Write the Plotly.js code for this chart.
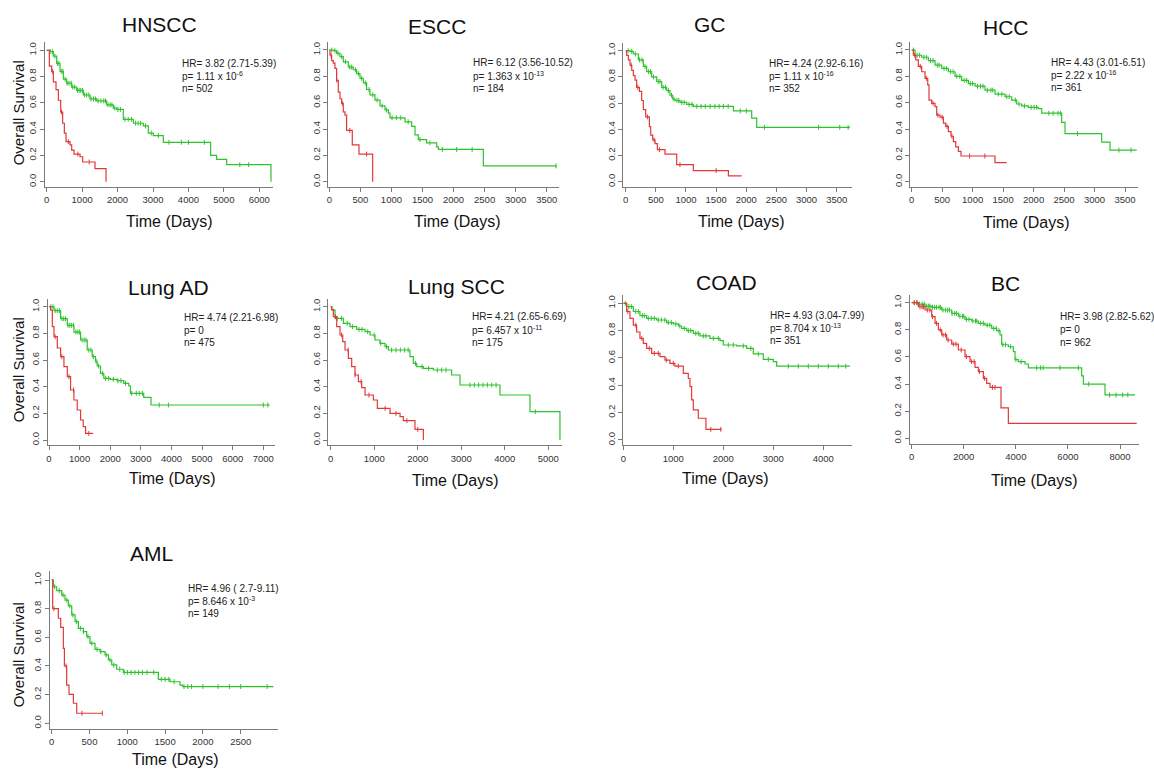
<!DOCTYPE html>
<html><head><meta charset="utf-8">
<script src="https://cdn.plot.ly/plotly-3.0.1.min.js"></script>
<style>html,body{margin:0;padding:0;background:#fff;}#chart{width:1154px;height:774px;}</style>
</head><body><div id="chart"></div>
<script>
// ---------------- DATA ----------------
const panelNames = ['HNSCC','ESCC','GC','HCC','Lung AD','Lung SCC','COAD','BC','AML'];
const xTickStep = [1000,500,500,500,1000,1000,1000,2000,500];
const xTickMax  = [6000,3500,3500,3500,7000,5000,4000,8000,2500];
const hrText = ['HR= 3.82 (2.71-5.39)','HR= 6.12 (3.56-10.52)','HR= 4.24 (2.92-6.16)','HR= 4.43 (3.01-6.51)',
  'HR= 4.74 (2.21-6.98)','HR= 4.21 (2.65-6.69)','HR= 4.93 (3.04-7.99)','HR= 3.98 (2.82-5.62)','HR= 4.96 ( 2.7-9.11)'];
const pText = ['p= 1.11 x 10<sup>-6</sup>','p= 1.363 x 10<sup>-13</sup>','p= 1.11 x 10<sup>-16</sup>','p= 2.22 x 10<sup>-16</sup>',
  'p= 0','p= 6.457 x 10<sup>-11</sup>','p= 8.704 x 10<sup>-13</sup>','p= 0','p= 8.646 x 10<sup>-3</sup>'];
const nText = ['n= 502','n= 184','n= 352','n= 361','n= 475','n= 175','n= 351','n= 962','n= 149'];

// HNSCC
const hnsccLowT = [0,94,188,282,376,470,564,705,846,1034,1222,1410,1692,1880,1975,2163,2445,2727,2868,3009,3291,4627,4796,5078,6329];
const hnsccLowS = [1,0.99,0.955,0.90,0.84,0.78,0.75,0.72,0.695,0.66,0.63,0.615,0.585,0.56,0.55,0.475,0.445,0.425,0.37,0.35,0.30,0.20,0.17,0.13,0];
const hnsccLowC = [95,160,230,300,345,410,455,520,575,630,690,735,790,870,915,960,1010,1070,1130,1190,1250,1320,1380,1450,1530,1610,1660,1730,1790,1840,1920,2010,2080,2210,2300,2390,2510,2580,2650,2790,2950,3150,3450,3800,4000,4450,5450,5700];
const hnsccHighT = [0,75,141,188,263,329,395,451,498,545,658,705,771,940,1015,1363,1674];
const hnsccHighS = [1,0.88,0.84,0.76,0.70,0.62,0.53,0.445,0.37,0.305,0.28,0.24,0.21,0.19,0.15,0.10,0];
const hnsccHighC = [160,420,610,880,1200];
// ESCC
const esccLowT = [0,64,118,172,225,306,387,440,494,548,601,655,735,816,896,950,977,1219,1326,1380,1433,1567,1728,1755,2480,3661];
const esccLowS = [1,0.995,0.975,0.95,0.91,0.87,0.85,0.82,0.785,0.75,0.70,0.66,0.62,0.575,0.545,0.52,0.485,0.455,0.42,0.355,0.32,0.295,0.265,0.245,0.12,0.12];
const esccLowC = [40,90,140,200,260,330,360,420,470,520,580,640,700,770,850,920,1010,1080,1150,1270,1460,1620,1820,2050,2300,3650];
const esccHighT = [0,11,38,64,91,118,145,172,199,225,252,279,370,478,698];
const esccHighS = [1,0.96,0.92,0.90,0.86,0.77,0.68,0.63,0.595,0.53,0.505,0.39,0.28,0.21,0];
const esccHighC = [30,120,210,330,600];
// GC
const gcLowT = [0,72,127,210,293,348,431,514,597,680,735,780,818,901,1012,1122,1786,2090,2173,3721];
const gcLowS = [1,0.995,0.975,0.93,0.88,0.84,0.80,0.765,0.72,0.695,0.66,0.63,0.62,0.605,0.59,0.575,0.54,0.485,0.415,0.415];
const gcLowC = [40,100,160,230,270,320,380,410,460,540,570,620,660,710,760,800,850,880,930,970,1050,1100,1180,1250,1320,1400,1480,1550,1620,1700,1900,2000,2300,3200,3550,3690];
const gcHighT = [0,17,44,72,100,127,155,182,227,265,293,332,393,415,448,487,525,652,846,1122,1703,1924];
const gcHighS = [1,0.965,0.93,0.89,0.85,0.81,0.775,0.72,0.69,0.62,0.55,0.495,0.42,0.355,0.32,0.29,0.245,0.21,0.13,0.085,0.045,0.045];
const gcHighC = [90,200,360,470,560,900,1500];
// HCC
const hccLowT = [0,55,164,273,383,492,602,711,820,930,1039,1203,1367,1531,1641,1723,1805,1914,2078,2133,2461,2516,3117,3254,3692];
const hccLowS = [1,0.96,0.945,0.92,0.885,0.86,0.835,0.80,0.77,0.745,0.725,0.695,0.665,0.645,0.62,0.59,0.575,0.565,0.555,0.52,0.45,0.365,0.30,0.24,0.24];
const hccLowC = [30,90,130,200,240,310,350,420,450,530,570,640,680,740,790,860,900,960,1000,1080,1130,1170,1240,1300,1330,1420,1480,1560,1600,1700,1760,1850,1960,2010,2050,2250,2320,2400,2440,2720,3400,3600];
const hccHighT = [0,27,66,109,164,219,263,284,328,383,410,465,520,558,602,645,684,722,766,809,1367,1559];
const hccHighS = [1,0.96,0.925,0.875,0.835,0.785,0.735,0.62,0.595,0.57,0.505,0.49,0.445,0.42,0.38,0.345,0.305,0.265,0.23,0.195,0.145,0.145];
const hccHighC = [50,140,240,350,430,500,580,660,950,1200];
// Lung AD
const luadLowT = [0,163,380,597,814,1031,1248,1411,1519,1574,1682,1791,2008,2225,2442,2605,2659,3093,3332,7217];
const luadLowS = [1,0.97,0.91,0.86,0.81,0.75,0.675,0.625,0.59,0.555,0.50,0.4625,0.455,0.445,0.425,0.405,0.35,0.32,0.2625,0.2625];
const luadLowC = [60,130,200,270,340,420,480,540,620,680,740,800,880,940,1000,1080,1150,1210,1300,1370,1450,1540,1620,1750,1850,1950,2100,2250,2350,2500,2700,2850,2950,3050,3600,3900,7000,7150];
const luadHighT = [0,54,109,163,271,380,488,597,705,814,922,1031,1118,1194,1443];
const luadHighS = [1,0.975,0.85,0.775,0.69,0.625,0.55,0.475,0.375,0.30,0.225,0.15,0.10,0.05,0.05];
const luadHighC = [200,420,650,800,1300];
// Lung SCC
const luscLowT = [0,23,100,291,444,597,789,904,1018,1133,1248,1325,1822,1899,1976,2129,2358,2779,2971,3890,4579,5268];
const luscLowS = [1,0.975,0.9125,0.875,0.85,0.83,0.8125,0.7875,0.75,0.725,0.70,0.675,0.625,0.575,0.55,0.5375,0.525,0.4875,0.4125,0.3375,0.2125,0];
const luscLowC = [150,250,380,500,650,720,850,1000,1150,1280,1400,1500,1600,1700,1780,1950,2100,2250,2450,2550,2650,3200,3300,3400,3500,3600,3700,3800,4700];
const luscHighT = [0,23,61,138,214,276,329,406,482,559,636,712,789,980,1072,1363,1593,1669,1937,2129];
const luscHighS = [1,0.98,0.925,0.85,0.7875,0.7375,0.675,0.6125,0.55,0.4875,0.4375,0.3925,0.3375,0.30,0.2375,0.20,0.175,0.145,0.08,0];
const luscHighC = [110,250,400,560,700,880,1250,1500,1750,2000];
// COAD
const coadLowT = [0,67,200,333,467,667,867,1000,1100,1167,1267,1400,1533,1733,1933,2000,2267,2467,2600,2800,3000,3067,4533];
const coadLowS = [1,0.976,0.94,0.91,0.89,0.878,0.859,0.849,0.834,0.817,0.80,0.78,0.761,0.744,0.727,0.695,0.688,0.67,0.63,0.59,0.573,0.54,0.54];
const coadLowC = [40,110,160,250,300,380,420,500,560,620,700,760,830,900,960,1050,1130,1220,1300,1350,1450,1500,1600,1650,1800,1900,2100,2200,2400,2550,2700,2900,3300,3500,3700,3900,4100,4300,4450];
const coadHighT = [0,67,133,200,267,333,400,467,567,733,833,933,1033,1200,1300,1333,1367,1400,1500,1653,1967];
const coadHighS = [1,0.94,0.89,0.84,0.79,0.744,0.707,0.67,0.634,0.61,0.585,0.561,0.541,0.488,0.45,0.39,0.293,0.22,0.159,0.078,0.078];
const coadHighC = [90,250,370,520,620,700,860,1000,1100,1750,1950];
// BC
const bcLowT = [0,256,512,768,1152,1536,1792,2048,2304,2560,2816,3072,3264,3392,3456,3712,3904,3968,4096,4352,4480,6528,6592,7424,8576];
const bcLowS = [1,0.99,0.975,0.966,0.946,0.921,0.90,0.877,0.865,0.848,0.835,0.81,0.794,0.762,0.69,0.675,0.639,0.58,0.565,0.548,0.52,0.46,0.40,0.32,0.32];
const bcLowC = [100,200,300,400,480,560,640,700,800,880,950,1050,1100,1200,1300,1380,1450,1550,1650,1720,1850,1950,2000,2100,2200,2350,2450,2500,2650,2750,2900,3000,3150,3250,3350,3500,3600,3800,4000,4200,4800,4950,5050,5700,6400,6800,7600,7850,8100,8300];
const bcHighT = [0,256,512,768,896,1024,1152,1344,1536,1792,2048,2240,2432,2560,2752,2880,3008,3430,3712,8640];
const bcHighS = [1,0.97,0.946,0.897,0.848,0.80,0.762,0.725,0.695,0.651,0.602,0.565,0.523,0.491,0.442,0.405,0.375,0.225,0.11,0.11];
const bcHighC = [100,200,320,400,450,600,700,800,950,1100,1200,1300,1400,1600,1700,1900,2100,2300,2400,2600,2800,3100,3200];
// AML
const amlLowT = [0,22,66,132,176,220,265,309,353,419,463,507,573,639,705,750,794,860,948,1411,1565,1697,1733,2932];
const amlLowS = [1,0.953,0.926,0.895,0.86,0.819,0.756,0.709,0.663,0.64,0.605,0.558,0.516,0.50,0.477,0.442,0.407,0.377,0.355,0.307,0.29,0.267,0.256,0.256];
const amlLowC = [40,100,150,200,240,280,330,380,420,480,530,600,650,720,770,820,900,960,1000,1050,1100,1150,1200,1260,1350,1450,1500,1550,1620,1750,1800,1850,2000,2200,2350,2500,2850];
const amlHighT = [0,13,88,119,154,168,198,229,287,331,675];
const amlHighS = [1,0.80,0.733,0.67,0.523,0.40,0.267,0.202,0.14,0.07,0.07];
const amlHighC = [30,190,400,670];

const lowT = [hnsccLowT,esccLowT,gcLowT,hccLowT,luadLowT,luscLowT,coadLowT,bcLowT,amlLowT];
const lowS = [hnsccLowS,esccLowS,gcLowS,hccLowS,luadLowS,luscLowS,coadLowS,bcLowS,amlLowS];
const lowC = [hnsccLowC,esccLowC,gcLowC,hccLowC,luadLowC,luscLowC,coadLowC,bcLowC,amlLowC];
const highT = [hnsccHighT,esccHighT,gcHighT,hccHighT,luadHighT,luscHighT,coadHighT,bcHighT,amlHighT];
const highS = [hnsccHighS,esccHighS,gcHighS,hccHighS,luadHighS,luscHighS,coadHighS,bcHighS,amlHighS];
const highC = [hnsccHighC,esccHighC,gcHighC,hccHighC,luadHighC,luscHighC,coadHighC,bcHighC,amlHighC];

// ---------------- LAYOUT GEOMETRY (pixels) ----------------
const W = 1154, H = 774;
const geom = [
 {pL:45,   p0:46.7,  pT:259.3, pR:273,  py1:50.3,  py0:181.7, tx:159,   ty:24,    ax:169,   ay:221,   hx:180,   hy:63.3},
 {pL:328.3,p0:329.3, pT:546.7, pR:559,  py1:50,    py0:181.7, tx:436.7, ty:26,    ax:457.5, ay:221.7, hx:471,   hy:62.7},
 {pL:623.3,p0:625.7, pT:836.7, pR:852,  py1:50.7,  py0:181.7, tx:710,   ty:24,    ax:741.7, ay:221.7, hx:766.7, hy:63.3},
 {pL:910.3,p0:911.7, pT:1125,  pR:1138, py1:50,    py0:181.7, tx:1005.7,ty:28,    ax:1026.7,ay:222,   hx:1049.3,hy:62.3},
 {pL:48,   p0:49,    pT:263.3, pR:275,  py1:306.7, py0:440,   tx:168.3, ty:287.3, ax:172.5, ay:478.3, hx:181.7, hy:317.3},
 {pL:328.3,p0:330.7, pT:548.3, pR:562,  py1:306.7, py0:440,   tx:456.7, ty:286.7, ax:455,   ay:480,   hx:470,   hy:316.7},
 {pL:623.3,p0:623.3, pT:823.3, pR:852,  py1:303.3, py0:440,   tx:726.7, ty:282.7, ax:725,   ay:478.3, hx:768.3, hy:315},
 {pL:910,  p0:911.7, pT:1120,  pR:1139, py1:302.7, py0:438.3, tx:1005,  ty:283.3, ax:1034,  ay:480,   hx:1057.7,hy:316.7},
 {pL:50,   p0:51.7,  pT:240.7, pR:278,  py1:580,   py0:723.3, tx:151.7, ty:553.3, ax:175.8, ay:759.3, hx:186,   hy:588.3}
];
const yTitlePos = [{i:0,x:18,y:113.3},{i:4,x:18.3,y:370},{i:8,x:18.3,y:655}];
const FONT = 'Liberation Sans, Arial, Helvetica, sans-serif';
const GREEN = '#2fc22f', RED = '#e23838', AXC = '#7a7a7a';
const Y0 = -0.04, Y1 = 1.06;

function stepAt(T, S, t){ let v = S[0]; for (let k=0;k<T.length;k++){ if (T[k] <= t) v = S[k]; } return v; }

const traces = [];
const layout = {width:W, height:H, margin:{l:0,r:0,t:0,b:0}, paper_bgcolor:'#fff', plot_bgcolor:'rgba(0,0,0,0)',
  showlegend:false, annotations:[], font:{family:FONT}};

for (let i=0;i<9;i++){
  const g = geom[i];
  const sfx = i===0 ? '' : String(i+1);
  const xa = 'x'+sfx, ya = 'y'+sfx;
  const s = (g.pT - g.p0)/xTickMax[i];
  const xr = [(g.pL-g.p0)/s, (g.pR-g.p0)/s];
  const h = g.py0 - g.py1;
  const pBot = g.py0 - Y0*h, pTop = g.py0 - Y1*h;
  const tv = []; for (let v=0; v<=xTickMax[i]; v+=xTickStep[i]) tv.push(v);
  layout['xaxis'+sfx] = {domain:[g.pL/W, g.pR/W], range:xr, anchor:ya, showline:true, linecolor:AXC, linewidth:1,
    ticks:'outside', ticklen:4, tickwidth:1, tickcolor:AXC, tickvals:tv, showgrid:false, zeroline:false,
    tickfont:{family:FONT,size:9.5,color:'#333'}, fixedrange:true};
  layout['yaxis'+sfx] = {domain:[1-pBot/H, 1-pTop/H], range:[Y0,Y1], anchor:xa, showline:true, linecolor:AXC, linewidth:1,
    ticks:'outside', ticklen:4, tickwidth:1, tickcolor:AXC, tickvals:[0,0.2,0.4,0.6,0.8,1.0], tickformat:'.1f', tickangle:-90,
    showgrid:false, zeroline:false, tickfont:{family:FONT,size:9.5,color:'#333'}, fixedrange:true};

  const groups = [[lowT[i],lowS[i],lowC[i],GREEN],[highT[i],highS[i],highC[i],RED]];
  groups.forEach(([T,S,C,col])=>{
    traces.push({type:'scatter', mode:'lines', x:T, y:S, xaxis:xa, yaxis:ya, line:{shape:'hv', color:col, width:1.2}, hoverinfo:'skip'});
    traces.push({type:'scatter', mode:'markers', x:C, y:C.map(t=>stepAt(T,S,t)), xaxis:xa, yaxis:ya,
      marker:{symbol:'line-ns-open', size:3.5, color:col, line:{width:1, color:col}}, hoverinfo:'skip'});
  });

  layout.annotations.push({text:panelNames[i], xref:'paper', yref:'paper', x:g.tx/W, y:1-g.ty/H, xanchor:'center', yanchor:'middle',
    showarrow:false, font:{family:FONT, size:21, color:'#111'}});
  layout.annotations.push({text:'Time (Days)', xref:'paper', yref:'paper', x:g.ax/W, y:1-g.ay/H, xanchor:'center', yanchor:'middle',
    showarrow:false, font:{family:FONT, size:16, color:'#111'}});
  [hrText[i], pText[i], nText[i]].forEach((t,k)=>{
    layout.annotations.push({text:t, xref:'paper', yref:'paper', x:g.hx/W, y:1-(g.hy+k*12.8)/H, xanchor:'left', yanchor:'middle',
      showarrow:false, font:{family:FONT, size:10, color:'#222'}});
  });
}
yTitlePos.forEach(p=>{
  layout.annotations.push({text:'Overall Survival', xref:'paper', yref:'paper', x:p.x/W, y:1-p.y/H, xanchor:'center', yanchor:'middle',
    textangle:-90, showarrow:false, font:{family:FONT, size:15, color:'#111'}});
});

Plotly.newPlot('chart', traces, layout, {staticPlot:true, displayModeBar:false});
</script>
</body></html>
